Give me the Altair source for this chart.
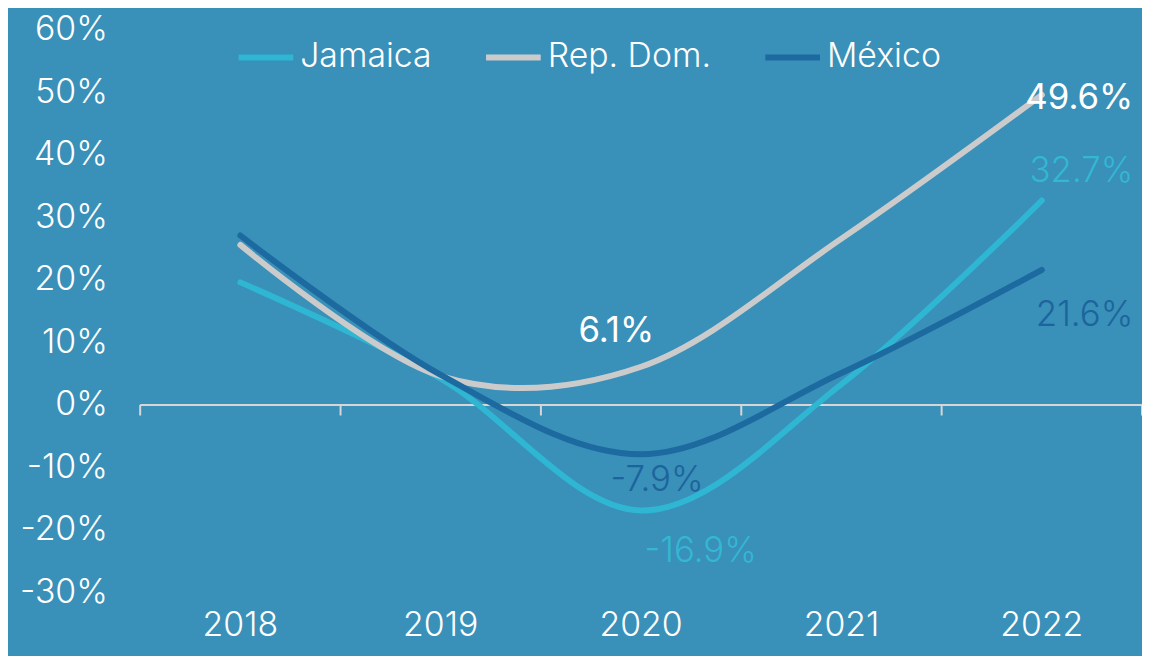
import altair as alt
import pandas as pd

# ---- data ----
years = ["2018", "2019", "2020", "2021", "2022"]
series_names = ["Jamaica", "Rep. Dom.", "México"]
jamaica = [19.6, 4.2, -16.9, 3.3, 32.7]
rep_dom = [25.6, 4.6, 6.1, 26.6, 49.6]
mexico = [27.1, 4.8, -7.9, 5.1, 21.6]
y_ticks = [-30, -20, -10, 0, 10, 20, 30, 40, 50, 60]

colors = ["#2FB6D2", "#CBCBCB", "#1C6A9F"]
BG = "#3990B8"
AXIS_COLOR = "#D6D6D6"
FONT = "Inter"

rows = []
for name, vals in zip(series_names, [jamaica, rep_dom, mexico]):
    for yr, v in zip(years, vals):
        rows.append({"year": yr, "series": name, "value": v})
df = pd.DataFrame(rows)
years_df = pd.DataFrame({"year": years})
zero_df = pd.DataFrame({"value": [0]})

x_scale = alt.Scale(type="band", domain=years, paddingInner=0, paddingOuter=0)
y_scale = alt.Scale(domain=[-30, 60], nice=False, zero=False)

x_axis = alt.Axis(title=None, domain=False, ticks=False, tickSize=0, labelAngle=0,
                  labelPadding=16, labelFont=FONT, labelFontSize=34,
                  labelFontWeight=300, labelColor="white", grid=False)
y_axis = alt.Axis(title=None, values=y_ticks, domain=False, ticks=False, tickSize=0,
                  grid=False, labelPadding=33, labelExpr="datum.value + '%'",
                  labelFont=FONT, labelFontSize=34, labelFontWeight=300,
                  labelColor="white")

zero_line = alt.Chart(zero_df).mark_rule(color=AXIS_COLOR, strokeWidth=2).encode(
    y=alt.Y("value:Q", scale=y_scale, axis=y_axis)
)

ticks_left = alt.Chart(years_df).mark_rule(color=AXIS_COLOR, strokeWidth=2).encode(
    x=alt.X("year:N", scale=x_scale, bandPosition=0, axis=x_axis),
    y=alt.YDatum(0),
    y2=alt.Y2Datum(-1.7),
)
ticks_right = alt.Chart(years_df).transform_filter(
    alt.datum.year == years[-1]
).mark_rule(color=AXIS_COLOR, strokeWidth=2).encode(
    x=alt.X("year:N", scale=x_scale, bandPosition=1),
    y=alt.YDatum(0),
    y2=alt.Y2Datum(-1.7),
)

lines = alt.Chart(df).mark_line(
    strokeWidth=6, interpolate="cardinal", tension=0, strokeCap="round"
).encode(
    x=alt.X("year:N", scale=x_scale, bandPosition=0.5, axis=x_axis),
    y=alt.Y("value:Q", scale=y_scale, axis=y_axis),
    color=alt.Color(
        "series:N", scale=alt.Scale(domain=series_names, range=colors),
        legend=alt.Legend(orient="none", legendX=96, legendY=-3, direction="horizontal",
                          title=None, symbolType="stroke", symbolSize=3025,
                          symbolStrokeWidth=6, labelFont=FONT, labelFontSize=34,
                          labelFontWeight=300, labelColor="white", columnPadding=42,
                          labelOffset=4, labelLimit=500, padding=0),
    ),
)


def label_layer(series, year, dx, dy, color, align, weight):
    return alt.Chart(df).transform_filter(
        (alt.datum.series == series) & (alt.datum.year == year)
    ).transform_calculate(
        label="datum.value + '%'"
    ).mark_text(
        dx=dx, dy=dy, align=align, baseline="middle", font=FONT, fontSize=35,
        fontWeight=weight, color=color,
    ).encode(
        x=alt.X("year:N", scale=x_scale, bandPosition=0.5),
        y=alt.Y("value:Q", scale=y_scale),
        text="label:N",
    )


labels = [
    label_layer("Rep. Dom.", "2022", 92, 3, "white", "right", 400),
    label_layer("Jamaica", "2022", 92, -30, "#33B7D3", "right", 300),
    label_layer("México", "2022", 92, 45, "#1D649C", "right", 300),
    label_layer("Rep. Dom.", "2020", -25, -36, "white", "center", 400),
    label_layer("México", "2020", 16, 26, "#1D649C", "center", 300),
    label_layer("Jamaica", "2020", 60, 41, "#33B7D3", "center", 300),
]

chart = alt.layer(zero_line, ticks_left, ticks_right, lines, *labels).properties(
    width=1008,
    height=566,
    autosize=alt.AutoSizeParams(type="none"),
    padding={"left": 133, "top": 20, "right": 0, "bottom": 62},
).configure(
    background=BG,
).configure_view(
    stroke=None,
)

chart.save("out.html", embed_options={"renderer": "svg", "actions": False})
